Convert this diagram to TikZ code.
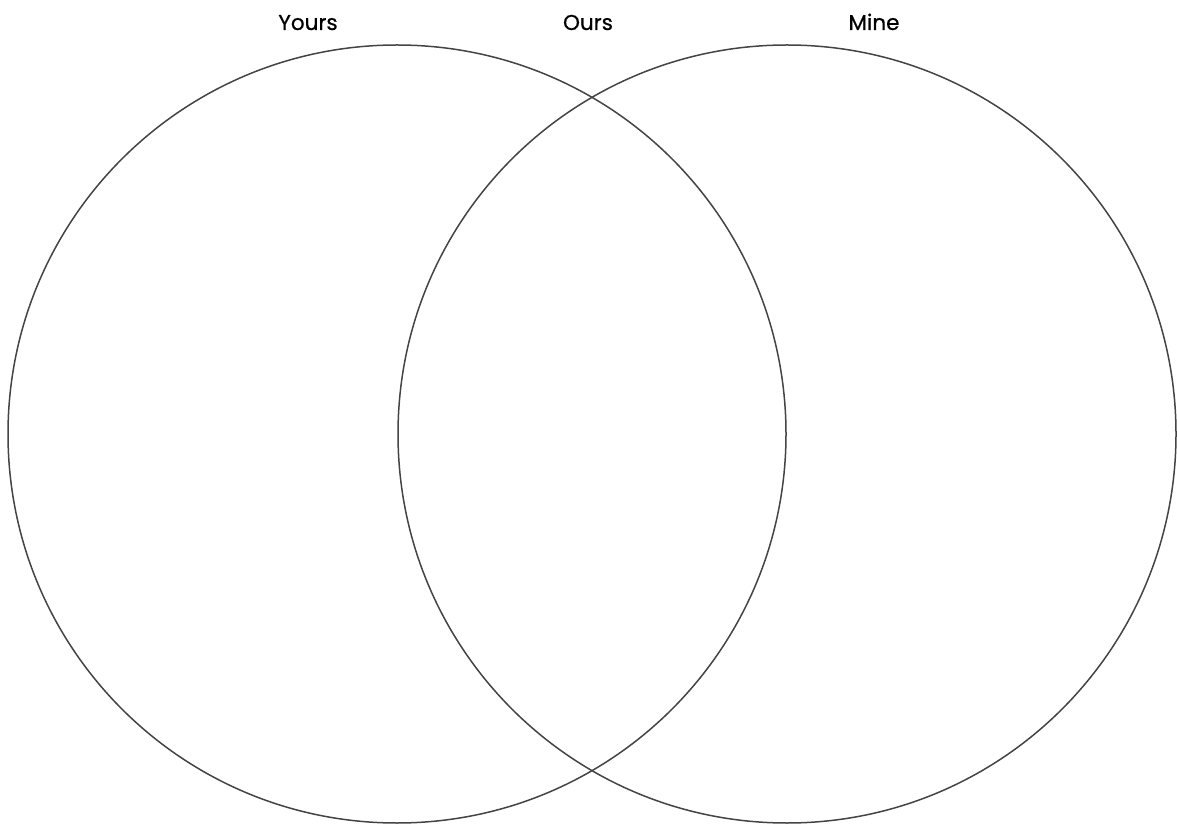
\documentclass[tikz,border=0pt]{standalone}
\usepackage{fontspec}
\setmainfont{Poppins}[UprightFeatures={FakeBold=0.6}]
\definecolor{ring}{HTML}{444444}
\begin{document}
\begin{tikzpicture}[x=1pt,y=1pt,
  ring/.style={draw=ring,line width=1.5pt},
  lbl/.style={font=\fontsize{21.5}{24}\selectfont,anchor=base,inner sep=0pt,text=black}]
\useasboundingbox (0,0) rectangle (1177,825);
\node[ring,circle,minimum size=778pt,inner sep=0pt] (left) at (397,391) {};
\node[ring,circle,minimum size=778pt,inner sep=0pt] (right) at (787,391) {};
\node[lbl] (yours) at (308,795) {Yours};
\node[lbl] (ours) at (588,795) {Ours};
\node[lbl] (mine) at (874,795) {Mine};
\end{tikzpicture}
\end{document}
